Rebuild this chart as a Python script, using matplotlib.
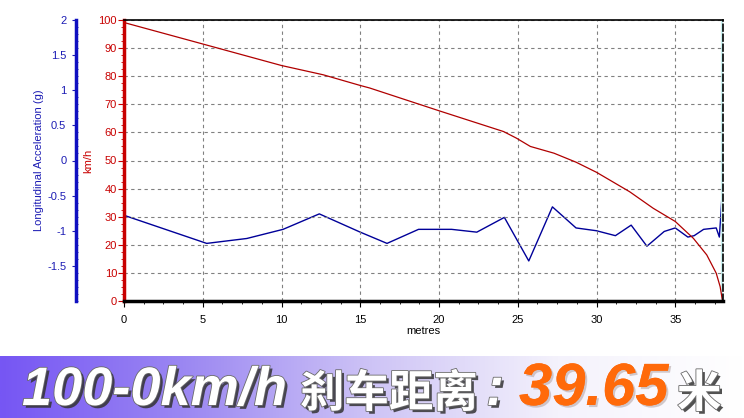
"""
Braking test chart: speed and longitudinal acceleration vs distance,
with the 100-0 km/h stopping distance banner underneath.
"""

import numpy as np
import matplotlib
matplotlib.use('Agg')
import matplotlib.pyplot as plt
import matplotlib.patheffects as pe
from matplotlib.colors import LinearSegmentedColormap
from matplotlib.ticker import MultipleLocator

# -------------------------------------------------------------------
# Data
# -------------------------------------------------------------------
speed_dist = [0, 5.04, 10.0, 12.65, 15.0, 15.6, 20.0, 24.1, 24.9, 25.8, 27.3,
              28.7, 30.0, 32.1, 33.6, 35.0, 36.15, 37.0, 37.6, 37.85, 38.0]
speed_kmh = [99.1, 91.4, 83.8, 80.5, 76.7, 75.8, 67.7, 60.3, 58.0, 55.0, 52.6,
             49.4, 45.8, 38.9, 33.0, 28.3, 22.3, 16.4, 9.9, 5.1, 0.0]

accel_dist = [0, 5.25, 7.8, 10.1, 12.4, 15.0, 16.7, 18.7, 20.8, 22.4, 24.15,
              25.7, 27.2, 28.7, 30.0, 31.2, 32.2, 33.2, 34.3, 35.0, 35.8,
              36.2, 36.8, 37.6, 37.8, 37.9, 38.05]
accel_g = [-0.78, -1.18, -1.11, -0.98, -0.76, -1.02, -1.18, -0.98, -0.98, -1.02,
           -0.81, -1.43, -0.66, -0.96, -1.00, -1.07, -0.92, -1.22, -1.01, -0.96,
           -1.09, -1.07, -0.98, -0.96, -1.09, -0.75, -0.18]

x_ticks = [0, 5, 10, 15, 20, 25, 30, 35]
kmh_ticks = [0, 10, 20, 30, 40, 50, 60, 70, 80, 90, 100]
g_ticks = [-1.5, -1, -0.5, 0, 0.5, 1, 1.5, 2]
g_tick_labels = ['-1.5', '-1', '-0.5', '0', '0.5', '1', '1.5', '2']

title_main = "100-0km/h"
title_cjk = "刹车距离"
title_value = "39.65"
title_unit = "米"

RED = '#C80000'
BLUE = '#1C1CB4'
TICK_FONT = 'Liberation Sans'

# -------------------------------------------------------------------
# Figure + axes
# -------------------------------------------------------------------
fig = plt.figure(figsize=(7.44, 4.18), dpi=100)
fig.patch.set_facecolor('white')

ax = fig.add_axes([124 / 744, 117 / 418, 599.3 / 744, 281 / 418])
ax2 = ax.twinx()
ax.set_zorder(ax2.get_zorder() + 1)
ax.patch.set_visible(False)

x_max = 38.05
ax.set_xlim(0, x_max)
ax.set_ylim(0, 100)
ax2.set_ylim(-2, 2)

# grid
ax.set_xticks(x_ticks)
ax.set_yticks(kmh_ticks)
ax.grid(True, color='#808080', linestyle=(0, (3, 3)), linewidth=0.8)

# series
ax2.plot(accel_dist, accel_g, color='#000099', linewidth=1.0)
ax.plot(speed_dist, speed_kmh, color='#B00000', linewidth=0.9)

# right edge marker line
ax.axvline(x_max, color='#C8F0F0', linewidth=3, zorder=1)

# -------------------------------------------------------------------
# Spines and ticks
# -------------------------------------------------------------------
ax.spines['bottom'].set_linewidth(2.5)
ax.spines['bottom'].set_color('black')
ax.spines['top'].set_linewidth(1.2)
ax.spines['left'].set_linewidth(2.5)
ax.spines['left'].set_color(RED)
ax.spines['right'].set_linestyle((0, (4, 2)))
ax.spines['right'].set_linewidth(1.2)

for side in ['top', 'bottom', 'right']:
    ax2.spines[side].set_visible(False)
ax2.spines['left'].set_position(('axes', (76 - 124) / 599.3))
ax2.spines['left'].set_linewidth(2.5)
ax2.spines['left'].set_color('#1010C0')
ax2.yaxis.set_ticks_position('left')
ax2.yaxis.set_label_position('left')

ax.tick_params(axis='x', direction='out', length=4, width=0.8, colors='black',
               labelsize=8, pad=6)
ax.xaxis.set_minor_locator(MultipleLocator(1.25))
ax.tick_params(axis='x', which='minor', length=2, width=0.6)

ax.tick_params(axis='y', direction='out', length=4, width=0.8, color=RED,
               labelcolor=RED, labelsize=8, pad=1)
ax.yaxis.set_minor_locator(MultipleLocator(2.5))
ax.tick_params(axis='y', which='minor', length=2, width=0.6, color=RED)

ax2.set_yticks(g_ticks)
ax2.set_yticklabels(g_tick_labels)
ax2.tick_params(axis='y', direction='out', length=3, width=0.8, color=BLUE,
                labelcolor=BLUE, labelsize=8, pad=4)
ax2.yaxis.set_minor_locator(MultipleLocator(0.1))
ax2.tick_params(axis='y', which='minor', direction='in', length=1.5, width=0.6,
                color=BLUE)

for lbl in ax.get_xticklabels() + ax.get_yticklabels() + ax2.get_yticklabels():
    lbl.set_fontfamily(TICK_FONT)

ax.set_xlabel("metres", fontsize=8, fontfamily=TICK_FONT, labelpad=1)
ax.set_ylabel("km/h", fontsize=8, fontfamily=TICK_FONT, color=RED, labelpad=4)
ax2.set_ylabel("Longitudinal Acceleration (g)", fontsize=8, fontfamily=TICK_FONT,
               color=BLUE, labelpad=2)

# -------------------------------------------------------------------
# Banner with gradient and title
# -------------------------------------------------------------------
bax = fig.add_axes([0, 0, 1, 62 / 418])
cmap = LinearSegmentedColormap.from_list(
    'banner', ['#7656F4', '#9C88F2', '#CEC4F6', '#F4F2FC', '#FFFFFF'])
grad = np.linspace(0, 1, 512).reshape(1, -1)
bax.imshow(grad, aspect='auto', cmap=cmap, extent=[0, 1, 0, 1])
bax.set_axis_off()

shadow = [pe.withSimplePatchShadow(offset=(2, -2), shadow_rgbFace='#333333', alpha=0.85),
          pe.Stroke(linewidth=1.2, foreground='#6a6a6a'), pe.Normal()]
base_y = 13 / 418

fig.text(22 / 744, base_y, title_main, color='white', fontsize=39,
         fontfamily='Liberation Sans', fontweight='bold', fontstyle='italic',
         ha='left', va='baseline', path_effects=shadow)
fig.text(300 / 744, base_y - 2 / 418, title_cjk, color='white', fontsize=32,
         fontfamily=['Noto Sans CJK SC', 'DejaVu Sans'], fontweight='bold',
         ha='left', va='baseline', path_effects=shadow)
fig.text(486 / 744, base_y, ":", color='white', fontsize=39,
         fontfamily='Liberation Sans', fontweight='bold', fontstyle='italic',
         ha='left', va='baseline', path_effects=shadow)
fig.text(519 / 744, base_y, title_value, color='#FF6A0A', fontsize=43,
         fontfamily='Liberation Sans', fontweight='bold', fontstyle='italic',
         ha='left', va='baseline',
         path_effects=[pe.withSimplePatchShadow(offset=(1.5, -1.5),
                                                shadow_rgbFace='#aa9999', alpha=0.5),
                       pe.Normal()])
fig.text(677 / 744, base_y - 2 / 418, title_unit, color='white', fontsize=32,
         fontfamily=['Noto Sans CJK SC', 'DejaVu Sans'], fontweight='bold',
         ha='left', va='baseline', path_effects=shadow)

fig.savefig("out.png", dpi=100)
plt.close(fig)
